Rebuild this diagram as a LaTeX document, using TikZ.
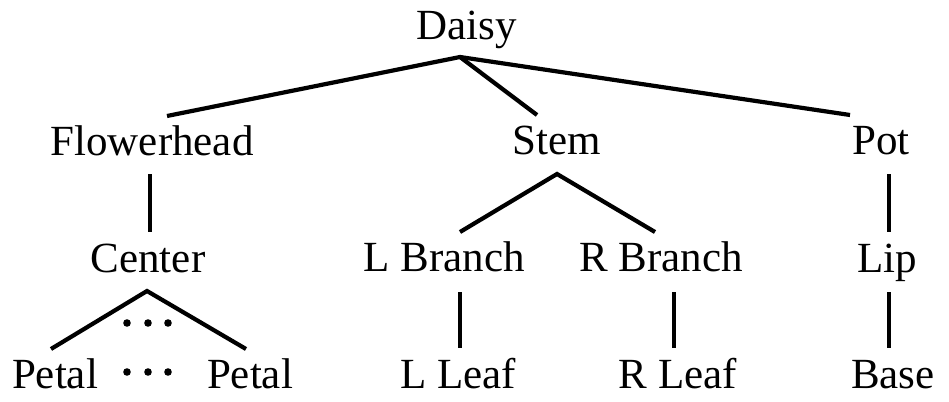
\documentclass[tikz,border=0pt]{standalone}
\usepackage{fontspec}
\setmainfont{Liberation Serif}
\begin{document}
\begin{tikzpicture}[x=1pt,y=-1pt,
  lbl/.style={inner sep=0pt,anchor=base,font=\fontsize{43}{50}\selectfont},
  edge/.style={line width=4.2pt},
  dotmark/.style={fill=black}]
\useasboundingbox (0,0) rectangle (949,401);
% labels
\node[lbl] (daisy) at (467,40) {Daisy};
\node[lbl] (flower) at (152,155) {Flowerhead};
\node[lbl] (stem) at (557,154) {Stem};
\node[lbl] (pot) at (881,154) {Pot};
\node[lbl] (center) at (148,272) {Center};
\node[lbl] (lbranch) at (444,271) {L Branch};
\node[lbl] (rbranch) at (661,271) {R Branch};
\node[lbl] (lip) at (887,272) {Lip};
\node[lbl] (petalL) at (55,388) {Petal};
\node[lbl] (petalR) at (250,388) {Petal};
\node[lbl] (lleaf) at (458,388) {L Leaf};
\node[lbl] (rleaf) at (678,388) {R Leaf};
\node[lbl] (base) at (893,388) {Base};
% connector end points
\coordinate (dA) at (460,57);
\coordinate (fT) at (167,116);
\coordinate (sT) at (537,115);
\coordinate (pT) at (850,115);
\coordinate (fB) at (150,174);
\coordinate (cT) at (150,232);
\coordinate (sB) at (557,174);
\coordinate (lbT) at (460,232);
\coordinate (rbT) at (655,232);
\coordinate (pB) at (889,174);
\coordinate (lpT) at (889,232);
\coordinate (cB) at (147,291);
\coordinate (plT) at (51,349);
\coordinate (prT) at (246,349);
\coordinate (lbB) at (460,292);
\coordinate (llT) at (460,348);
\coordinate (rbB) at (674,292);
\coordinate (rlT) at (674,348);
\coordinate (lpB) at (889,292);
\coordinate (bsT) at (889,348);
% connectors
\draw[edge] (fT) -- (dA) -- (pT);
\draw[edge] (dA) -- (sT);
\draw[edge] (fB) -- (cT);
\draw[edge] (lbT) -- (sB) -- (rbT);
\draw[edge] (pB) -- (lpT);
\draw[edge] (plT) -- (cB) -- (prT);
\draw[edge] (lbB) -- (llT);
\draw[edge] (rbB) -- (rlT);
\draw[edge] (lpB) -- (bsT);
% ellipses
\foreach \x in {127,148,168}{
  \fill[dotmark] (\x,323) circle (3.8);
  \fill[dotmark] (\x,372) circle (3.8);
}
\end{tikzpicture}
\end{document}
